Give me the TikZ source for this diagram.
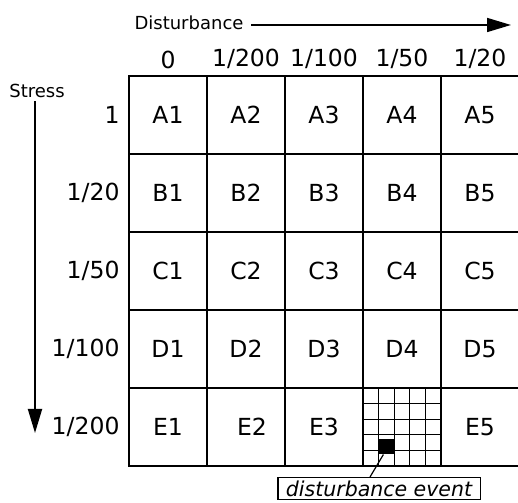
\documentclass[tikz,border=0pt]{standalone}
\usepackage{fontspec}
\setmainfont{DejaVu Sans}[ItalicFont={DejaVu Sans Oblique}]
\usetikzlibrary{arrows.meta,positioning,calc}
\newcommand{\cellfont}{\fontsize{23.5}{27}\selectfont}
\newcommand{\axisfont}{\fontsize{18}{21}\selectfont}

\begin{document}
\begin{tikzpicture}[x=1pt,y=1pt,node distance=0pt,>={Triangle[length=24pt,width=14pt]},every node/.append style={align=center},cell/.style={draw, line width=2pt, minimum size=78pt, inner sep=0pt, outer sep=0pt, font=\cellfont},lab/.style={font=\cellfont},axis/.style={font=\axisfont},sub/.style={line width=1.2pt},evsq/.style={fill=black, minimum size=15.6pt, inner sep=0pt},note/.style={draw, line width=1.2pt, font=\fontsize{20.5}{24}\selectfont\itshape, inner xsep=8pt, inner ysep=3pt}]
    \useasboundingbox (0,0) rectangle (518,502);
    \node [cell] (A1) at (168,387) {A1};
    \node [cell, right=of A1] (A2) {A2};
    \node [cell, right=of A2] (A3) {A3};
    \node [cell, right=of A3] (A4) {A4};
    \node [cell, right=of A4] (A5) {A5};
    \node [cell, below=of A1] (B1) {B1};
    \node [cell, right=of B1] (B2) {B2};
    \node [cell, right=of B2] (B3) {B3};
    \node [cell, right=of B3] (B4) {B4};
    \node [cell, right=of B4] (B5) {B5};
    \node [cell, below=of B1] (C1) {C1};
    \node [cell, right=of C1] (C2) {C2};
    \node [cell, right=of C2] (C3) {C3};
    \node [cell, right=of C3] (C4) {C4};
    \node [cell, right=of C4] (C5) {C5};
    \node [cell, below=of C1] (D1) {D1};
    \node [cell, right=of D1] (D2) {D2};
    \node [cell, right=of D2] (D3) {D3};
    \node [cell, right=of D3] (D4) {D4};
    \node [cell, right=of D4] (D5) {D5};
    \node [cell, below=of D1] (E1) {E1};
    \node [cell, right=of E1] (E2) {\hspace{12pt}E2};
    \node [cell, right=of E2] (E3) {E3};
    \node [cell, right=of E3] (E4) {};
    \node [cell, right=of E4] (E5) {E5};
    \foreach \i in {1,...,4} {
        \draw[sub] ($(E4.south west)!\i/5!(E4.south east)$) -- ($(E4.north west)!\i/5!(E4.north east)$);
        \draw[sub] ($(E4.south west)!\i/5!(E4.north west)$) -- ($(E4.south east)!\i/5!(E4.north east)$);
    }
    \node [evsq] (ev) at ($(E4.north west)+(23.4,-58.5)$) {};
    \node [note, below=11pt of E4, xshift=-23pt] (note) {disturbance event};
    \draw[sub] ([xshift=-3pt]ev.south) -- ([xshift=-9pt]note.north);
    \node [lab, above=4pt of A1] (c1) {0};
    \node [lab, above=4pt of A2] (c2) {1/200};
    \node [lab, above=4pt of A3] (c3) {1/100};
    \node [lab, above=4pt of A4] (c4) {1/50};
    \node [lab, above=4pt of A5] (c5) {1/20};
    \node [lab, left=6pt of A1] (r1) {1};
    \node [lab, left=6pt of B1] (r2) {1/20};
    \node [lab, left=6pt of C1] (r3) {1/50};
    \node [lab, left=6pt of D1] (r4) {1/100};
    \node [lab, left=6pt of E1] (r5) {1/200};
    \node [axis] (stress) at (37,411) {Stress};
    \coordinate (stressend) at (35,69);
    \draw[->, line width=1.8pt] (stress.south -| stressend) -- (stressend);
    \node [axis] (dist) at (189,479) {Disturbance};
    \coordinate (distend) at (511,477);
    \draw[->, line width=1.6pt, shorten <=4pt] (dist.east |- distend) -- (distend);
\end{tikzpicture}
\end{document}
